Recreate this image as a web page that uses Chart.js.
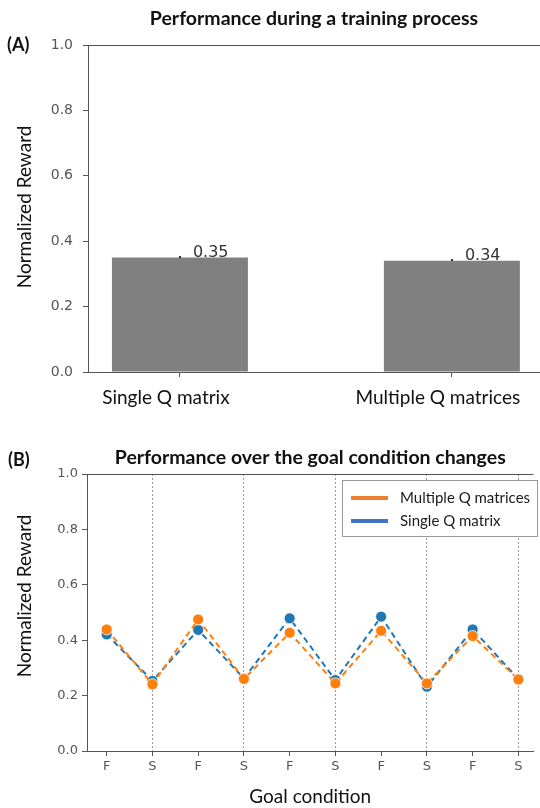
<!DOCTYPE html>
<html>
<head>
<meta charset="utf-8">
<script src="https://cdn.jsdelivr.net/npm/chart.js@4.4.1/dist/chart.umd.min.js"></script>
<style>
  html, body { margin: 0; padding: 0; background: #ffffff; width: 540px; height: 808px; overflow: hidden; position: relative; }
  .wrap { position: absolute; left: 0; width: 540px; }
  #wa { top: 0; height: 420px; }
  #wb { top: 420px; height: 388px; }
  .tag { position: absolute; font: bold 18px Lato, sans-serif; color: #111; line-height: 20px; }
</style>
</head>
<body>
<div class="wrap" id="wa"><canvas id="ca"></canvas></div>
<div class="wrap" id="wb"><canvas id="cb"></canvas></div>
<div class="tag" style="left:7px; top:34px;">(A)</div>
<div class="tag" style="left:8px; top:449px;">(B)</div>
<script>
// ---------- Panel A data ----------
const barCategories = ['Single Q matrix', 'Multiple Q matrices'];
const barValues = [0.35, 0.34];
const barLabels = ['0.35', '0.34'];

// ---------- Panel B data ----------
const goalConditions = ['F', 'S', 'F', 'S', 'F', 'S', 'F', 'S', 'F', 'S'];
const singleQ = [0.421, 0.253, 0.437, 0.262, 0.479, 0.256, 0.485, 0.232, 0.439, 0.260];
const multipleQ = [0.439, 0.241, 0.475, 0.260, 0.427, 0.244, 0.434, 0.244, 0.415, 0.258];

const yTicks = [0, 0.2, 0.4, 0.6, 0.8, 1.0];

const CAL = 'Lato, "Open Sans", sans-serif';
const MPL = '"DejaVu Sans", sans-serif';
const SPINE = '#555555';
const TICKTXT = '#555555';

// frame line on top of the plot area
const topFramePlugin = {
  id: 'topFrame',
  afterDraw(chart) {
    const {ctx, chartArea: a} = chart;
    ctx.save();
    ctx.strokeStyle = SPINE;
    ctx.lineWidth = 1;
    ctx.beginPath();
    ctx.moveTo(a.left, Math.round(a.top) + 0.5);
    ctx.lineTo(a.right, Math.round(a.top) + 0.5);
    ctx.stroke();
    ctx.restore();
  }
};

// rotated y axis title drawn at a chosen centre
const yTitlePlugin = {
  id: 'yTitle',
  afterDraw(chart, args, opts) {
    if (!opts || !opts.text) return;
    const ctx = chart.ctx;
    ctx.save();
    ctx.translate(opts.x, opts.y);
    ctx.rotate(-Math.PI / 2);
    ctx.font = opts.font;
    ctx.fillStyle = opts.color;
    ctx.textAlign = 'center';
    ctx.textBaseline = 'middle';
    ctx.fillText(opts.text, 0, 0);
    ctx.restore();
  }
};

// value labels above bars
const barValuePlugin = {
  id: 'barValue',
  afterDatasetsDraw(chart, args, opts) {
    if (!opts || !opts.labels) return;
    const ctx = chart.ctx;
    const meta = chart.getDatasetMeta(0);
    ctx.save();
    ctx.font = opts.font;
    ctx.textAlign = 'left';
    ctx.textBaseline = 'alphabetic';
    meta.data.forEach((bar, i) => {
      ctx.fillStyle = '#333';
      ctx.fillRect(Math.round(bar.x) - 1, Math.round(bar.y) - 2, 2, 2);
      ctx.fillStyle = opts.color;
      ctx.fillText(opts.labels[i], bar.x + opts.dx, bar.y + opts.dy);
    });
    ctx.restore();
  }
};

// legend box inside the plot area
const innerLegendPlugin = {
  id: 'innerLegend',
  afterDraw(chart, args, opts) {
    if (!opts || !opts.items) return;
    const ctx = chart.ctx;
    ctx.save();
    ctx.fillStyle = '#ffffff';
    ctx.fillRect(opts.x, opts.y, opts.w, opts.h);
    ctx.strokeStyle = '#9a9a9a';
    ctx.lineWidth = 1;
    ctx.strokeRect(opts.x + 0.5, opts.y + 0.5, opts.w, opts.h);
    ctx.font = opts.font;
    ctx.textBaseline = 'middle';
    ctx.textAlign = 'left';
    opts.items.forEach((it, i) => {
      const y = opts.y + opts.firstRow + i * opts.rowGap;
      ctx.strokeStyle = it.color;
      ctx.lineWidth = 4;
      ctx.beginPath();
      ctx.moveTo(opts.x + opts.lineX0, y);
      ctx.lineTo(opts.x + opts.lineX1, y);
      ctx.stroke();
      ctx.fillStyle = '#1a1a1a';
      ctx.fillText(it.text, opts.x + opts.textX, y);
    });
    ctx.restore();
  }
};

Chart.register(topFramePlugin, yTitlePlugin, barValuePlugin, innerLegendPlugin);

// ---------- Panel A ----------
new Chart(document.getElementById('ca'), {
  type: 'bar',
  data: {
    datasets: [{
      data: barCategories.map((c, i) => ({x: i, y: barValues[i]})),
      backgroundColor: '#808080',
      borderWidth: 0,
      categoryPercentage: 1.0,
      barPercentage: 0.5
    }]
  },
  options: {
    responsive: true,
    maintainAspectRatio: false,
    animation: false,
    layout: {padding: 0},
    plugins: {
      legend: {display: false},
      tooltip: {enabled: false},
      title: {
        display: true,
        fullSize: false,
        text: 'Performance during a training process',
        color: '#111',
        font: {family: CAL, size: 19.5, weight: 'bold', lineHeight: 1.2},
        padding: {top: 7, bottom: 14.6}
      },
      yTitle: {text: 'Normalized Reward', x: 25, y: 207, font: '19px ' + CAL, color: '#111'},
      barValue: {labels: barLabels, dx: 13, dy: -1, font: '16px ' + MPL, color: '#333'},
      innerLegend: false
    },
    scales: {
      x: {
        type: 'linear',
        offset: false,
        min: -0.338,
        max: 1.324,
        afterBuildTicks(scale) { scale.ticks = barCategories.map((c, i) => ({value: i})); },
        afterFit(scale) { scale.height = 48; scale.paddingLeft = 0; scale.paddingRight = 0; },
        ticks: {
          callback: (v) => barCategories[v] ?? '',
          color: '#111',
          font: {family: CAL, size: 19},
          padding: 9,
          labelOffset: -14,
          maxRotation: 0,
          autoSkip: false
        },
        grid: {offset: false, drawOnChartArea: false, tickLength: 5, tickColor: SPINE, color: SPINE},
        border: {color: SPINE, width: 1}
      },
      y: {
        min: 0,
        max: 1,
        afterBuildTicks(scale) { scale.ticks = yTicks.map(v => ({value: v})); },
        afterFit(scale) { scale.width = 88; },
        ticks: {
          callback: (v) => Number(v).toFixed(1),
          color: TICKTXT,
          font: {family: MPL, size: 14},
          padding: 10
        },
        grid: {drawOnChartArea: false, tickLength: 5, tickColor: SPINE, color: SPINE},
        border: {color: SPINE, width: 1}
      }
    }
  }
});

// ---------- Panel B ----------
new Chart(document.getElementById('cb'), {
  type: 'line',
  data: {
    datasets: [
      {
        label: 'Single Q matrix',
        data: goalConditions.map((c, i) => ({x: i, y: singleQ[i]})),
        borderColor: '#1f77b4',
        backgroundColor: '#1f77b4',
        borderWidth: 2,
        borderDash: [6, 4],
        pointRadius: 5.5,
        pointBorderColor: 'rgba(255,255,255,0.8)',
        pointBorderWidth: 1,
        pointBackgroundColor: '#1f77b4',
        tension: 0,
        order: 2
      },
      {
        label: 'Multiple Q matrices',
        data: goalConditions.map((c, i) => ({x: i, y: multipleQ[i]})),
        borderColor: '#ff7f0e',
        backgroundColor: '#ff7f0e',
        borderWidth: 2,
        borderDash: [6, 4],
        pointRadius: 5.5,
        pointBorderColor: 'rgba(255,255,255,0.8)',
        pointBorderWidth: 1,
        pointBackgroundColor: '#ff7f0e',
        tension: 0,
        order: 1
      }
    ]
  },
  options: {
    responsive: true,
    maintainAspectRatio: false,
    animation: false,
    layout: {padding: 0},
    plugins: {
      legend: {display: false},
      tooltip: {enabled: false},
      title: {
        display: true,
        fullSize: false,
        text: 'Performance over the goal condition changes',
        color: '#111',
        font: {family: CAL, size: 19.5, weight: 'bold', lineHeight: 1.2},
        padding: {top: 26.3, bottom: 4.3}
      },
      yTitle: {text: 'Normalized Reward', x: 25, y: 176, font: '19px ' + CAL, color: '#111'},
      barValue: false,
      innerLegend: {
        x: 342, y: 60, w: 195, h: 56,
        firstRow: 18, rowGap: 23,
        lineX0: 9, lineX1: 46, textX: 58,
        font: '15px ' + CAL,
        items: [
          {text: 'Multiple Q matrices', color: '#ED7D31'},
          {text: 'Single Q matrix', color: '#4472C4'}
        ]
      }
    },
    scales: {
      x: {
        type: 'linear',
        min: -0.43,
        max: 9.33,
        afterBuildTicks(scale) { scale.ticks = goalConditions.map((c, i) => ({value: i})); },
        afterFit(scale) { scale.height = 57; scale.paddingLeft = 0; scale.paddingRight = 0; },
        ticks: {
          callback: (v) => goalConditions[v] ?? '',
          color: TICKTXT,
          font: {family: MPL, size: 13},
          padding: 3,
          maxRotation: 0,
          autoSkip: false
        },
        title: {
          display: true,
          text: 'Goal condition',
          color: '#111',
          font: {family: CAL, size: 19},
          padding: {top: 0, bottom: 0}
        },
        grid: {
          drawOnChartArea: true,
          color: (ctx) => (ctx.tick && goalConditions[ctx.tick.value] === 'S') ? '#9a9a9a' : 'rgba(0,0,0,0)',
          lineWidth: 1,
          tickLength: 5,
          tickColor: SPINE
        },
        border: {color: SPINE, width: 1, dash: [2, 2]}
      },
      y: {
        min: 0,
        max: 1,
        afterBuildTicks(scale) { scale.ticks = yTicks.map(v => ({value: v})); },
        afterFit(scale) { scale.width = 87; },
        ticks: {
          callback: (v) => Number(v).toFixed(1),
          color: TICKTXT,
          font: {family: MPL, size: 13},
          padding: 4
        },
        grid: {drawOnChartArea: false, tickLength: 5, tickColor: SPINE, color: SPINE},
        border: {color: SPINE, width: 1}
      }
    }
  }
});
</script>
</body>
</html>
